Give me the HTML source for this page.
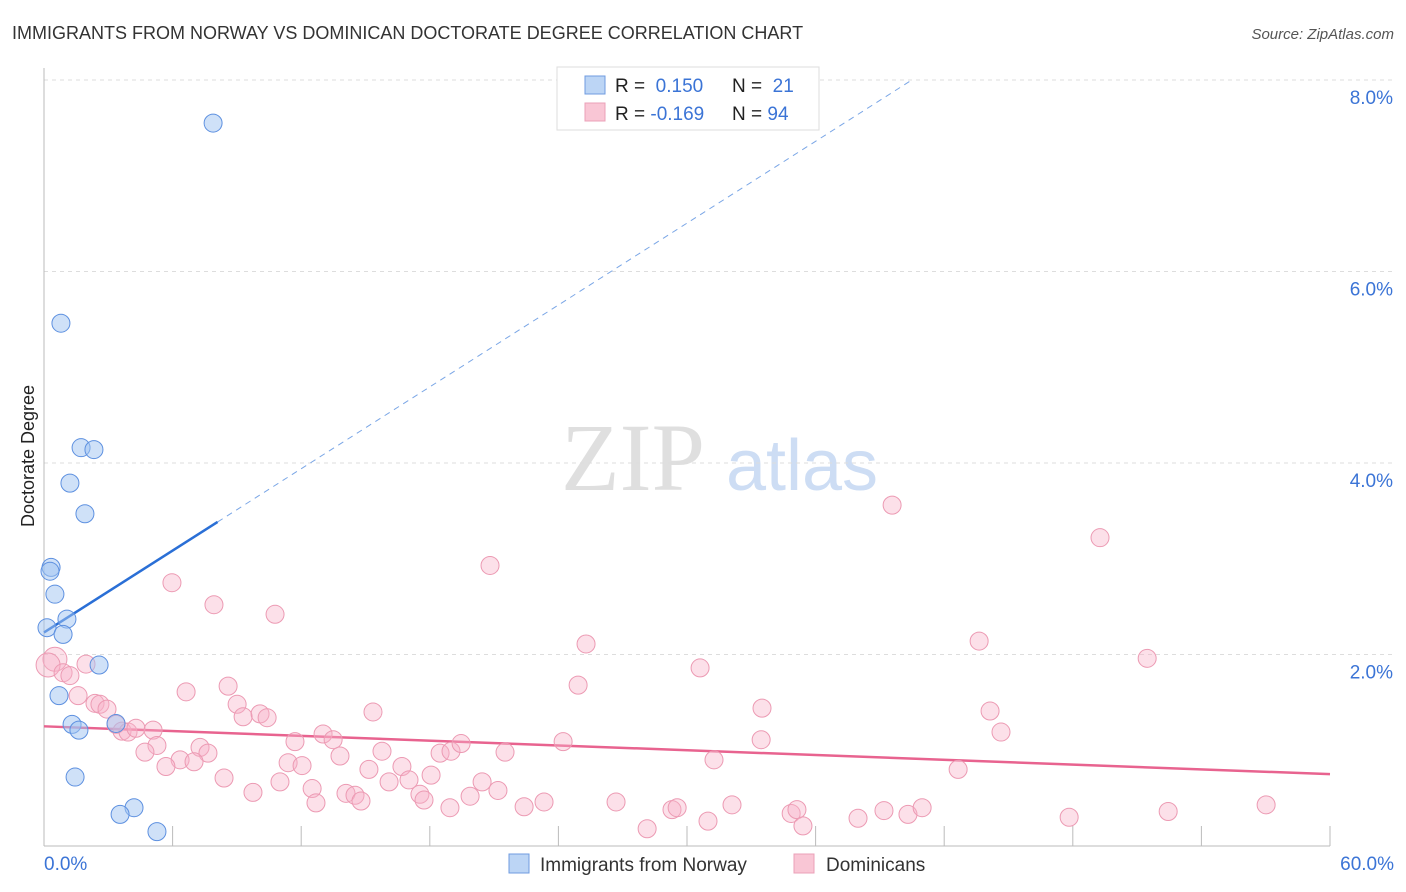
<!DOCTYPE html>
<html><head><meta charset="utf-8"><style>
body{margin:0;background:#fff;font-family:"Liberation Sans",sans-serif}
#wrap{position:relative;width:1406px;height:892px;overflow:hidden}
</style></head><body>
<div id="wrap">
<svg id="svg" width="1406" height="892" xmlns="http://www.w3.org/2000/svg">
<text x="12" y="39" font-size="18" fill="#333">IMMIGRANTS FROM NORWAY VS DOMINICAN DOCTORATE DEGREE CORRELATION CHART</text>
<text x="1394" y="39" font-size="15" fill="#555" font-style="italic" text-anchor="end">Source: ZipAtlas.com</text>
<text x="0" y="0" transform="translate(34,456) rotate(-90)" font-size="18" fill="#222" text-anchor="middle">Doctorate Degree</text>
<g><text x="633" y="490" font-size="96" font-family="Liberation Serif" fill="#d8d8d8" text-anchor="middle" opacity="0.8">ZIP</text><text x="802" y="490" font-size="72" fill="#b8cff0" text-anchor="middle" opacity="0.7">atlas</text></g>
<g id="grid"></g><g id="axes"></g><g id="trend"></g><g id="pts"></g>
<g>
<rect x="557" y="67" width="262" height="63" fill="#fff" stroke="#ddd"/>
<rect x="585" y="76" width="20" height="18" fill="#bcd5f5" stroke="#6f9be0"/>
<rect x="585" y="103" width="20" height="18" fill="#f9c6d5" stroke="#eba0b8"/>
<text x="615" y="92" font-size="19" fill="#222">R = <tspan fill="#3b74d6">&#160;0.150</tspan><tspan x="732">N = </tspan><tspan fill="#3b74d6">&#160;21</tspan></text>
<text x="615" y="120" font-size="19" fill="#222">R = <tspan fill="#3b74d6">-0.169</tspan><tspan x="732">N = </tspan><tspan fill="#3b74d6">94</tspan></text>
</g>
<g>
<rect x="509" y="854" width="20" height="19" fill="#bcd5f5" stroke="#6f9be0"/>
<text x="540" y="871" font-size="19" fill="#333">Immigrants from Norway</text>
<rect x="794" y="854" width="20" height="19" fill="#f9c6d5" stroke="#eba0b8"/>
<text x="826" y="871" font-size="19" fill="#333">Dominicans</text>
</g>
</svg>
</div>
<script>
const yTicks=[2,4,6,8];
const yTickLabels=["2.0%","4.0%","6.0%","8.0%"];
const xTickLabels=["0.0%","60.0%"];
const blueX=[7.89,0.79,1.73,2.33,1.21,1.91,0.33,0.28,0.51,1.07,0.14,0.89,2.57,0.70,1.31,1.63,3.36,1.45,4.20,3.55,5.27];
const blueY=[7.55,5.46,4.16,4.14,3.79,3.47,2.91,2.87,2.63,2.37,2.28,2.21,1.89,1.57,1.27,1.21,1.28,0.72,0.40,0.33,0.15];
const pinkX=[0.51,0.19,1.96,0.89,1.21,1.59,5.97,7.93,10.78,20.81,25.29,39.57,49.27,43.63,51.47,30.61,24.92,6.63,8.59,2.38,2.61,2.94,9.01,9.29,10.08,10.41,15.35,33.50,44.14,44.65,3.36,3.64,3.92,4.29,5.09,5.27,4.71,7.28,7.65,6.35,5.69,7.00,8.40,9.75,11.01,11.71,13.02,13.49,13.81,11.39,12.04,12.51,12.69,14.09,14.51,14.79,15.16,15.77,16.10,16.70,17.03,17.54,17.73,18.06,18.48,18.99,19.46,18.94,19.88,20.44,21.18,21.51,22.40,23.33,24.22,26.69,28.14,29.30,29.54,30.98,31.26,32.10,33.46,34.86,35.13,35.41,37.98,39.19,40.31,40.97,42.65,47.83,52.45,57.02];
const pinkY=[1.95,1.89,1.90,1.81,1.78,1.57,2.75,2.52,2.42,2.93,2.11,3.56,3.22,2.14,1.96,1.86,1.68,1.61,1.67,1.49,1.48,1.43,1.48,1.35,1.38,1.34,1.40,1.44,1.41,1.19,1.27,1.20,1.19,1.23,1.21,1.05,0.98,1.03,0.97,0.90,0.83,0.88,0.71,0.56,0.67,1.09,1.17,1.11,0.94,0.87,0.84,0.60,0.45,0.55,0.53,0.47,0.80,0.99,0.67,0.83,0.69,0.54,0.48,0.74,0.97,0.99,1.07,0.40,0.52,0.67,0.58,0.98,0.41,0.46,1.09,0.46,0.18,0.38,0.40,0.26,0.90,0.43,1.11,0.34,0.38,0.21,0.29,0.37,0.33,0.40,0.80,0.30,0.36,0.43];
const blueTrend=[2.23,0.1425];
const pinkTrend=[1.25,-0.00833];
const X0=44,X1=1330,Y0=846,PY=95.75;
const sx=v=>X0+(X1-X0)*v/60, sy=v=>Y0-v*PY;
const NS="http://www.w3.org/2000/svg";
function mk(t,a,p){const e=document.createElementNS(NS,t);for(const k in a)e.setAttribute(k,a[k]);document.getElementById(p).appendChild(e);return e;}
yTicks.forEach((t,i)=>{
 const l=mk('line',{x1:X0,x2:1394,y1:sy(t),y2:sy(t),stroke:'#ddd','stroke-dasharray':'4,4'},'grid');
 
 
 const tx=mk('text',{x:1393,y:sy(t)+24,'font-size':19,fill:'#3b74d6','text-anchor':'end'},'grid');
 tx.textContent=yTickLabels[i];
 
 
});
const ax=mk('line',{x1:X0,x2:X0,y1:68,y2:Y0,stroke:'#bbb'},'axes');


const bx=mk('line',{x1:X0,x2:X1,y1:Y0,y2:Y0,stroke:'#bbb'},'axes');


for(let i=1;i<=10;i++){
 const t=mk('line',{x1:sx(i*6),x2:sx(i*6),y1:826,y2:Y0,stroke:'#bbb'},'axes');
 
 
}
[[0,'start',X0],[60,'end',1394]].forEach((d,i)=>{
 const t=mk('text',{x:d[2],y:870,'font-size':19,fill:'#3b74d6','text-anchor':d[1]},'axes');
 t.textContent=xTickLabels[i];
 
 
});
const bs=mk('line',{x1:sx(0),y1:sy(blueTrend[0]),x2:sx(8.1),y2:sy(blueTrend[0]+blueTrend[1]*8.1),stroke:'#2a6fd6','stroke-width':2.5},'trend');


const bd=mk('line',{x1:sx(8.1),y1:sy(blueTrend[0]+blueTrend[1]*8.1),x2:sx(40.5),y2:sy(blueTrend[0]+blueTrend[1]*40.5),stroke:'#7aa6e6','stroke-width':1,'stroke-dasharray':'6,5'},'trend');


pinkX.forEach((x,i)=>{
 const c=mk('circle',{cx:sx(x),cy:sy(pinkY[i]),r:(i<2?12:9),fill:'rgba(247,178,200,0.4)',stroke:'#ec9ab3','stroke-width':1},'pts');
 
 
});
const pt=mk('line',{x1:sx(0),y1:sy(pinkTrend[0]),x2:sx(60),y2:sy(pinkTrend[0]+pinkTrend[1]*60),stroke:'#e8638f','stroke-width':2.5},'trend');


blueX.forEach((x,i)=>{
 const c=mk('circle',{cx:sx(x),cy:sy(blueY[i]),r:9,fill:'rgba(160,196,242,0.5)',stroke:'#5d90e0','stroke-width':1},'pts');
 
 
});
</script>
</body></html>
